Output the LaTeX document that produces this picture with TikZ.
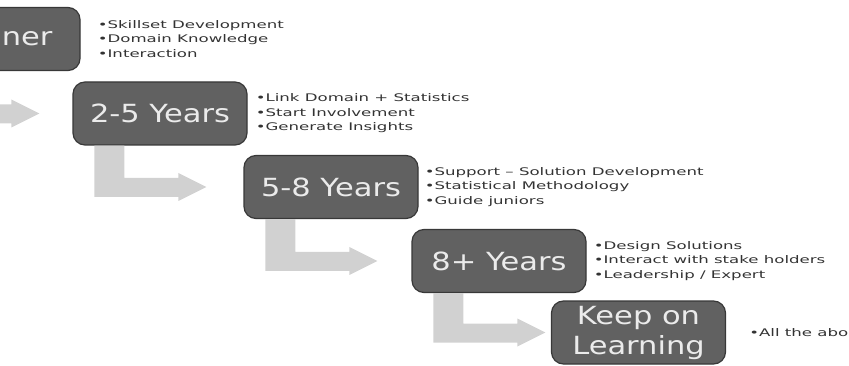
\documentclass[tikz,border=0pt]{standalone}
\usepackage{fontspec}
\setmainfont{DejaVu Sans}
\newfontfamily\stagefont[FakeStretch=1.22]{DejaVu Sans}
\newfontfamily\pointfont[FakeStretch=1.58]{DejaVu Sans}
\usetikzlibrary{positioning, calc}

\tikzset{
  stage/.style={rounded corners=12pt, fill=black!62, draw=black!78, line width=1.2pt,
    text=white!92!black, minimum width=174pt, minimum height=63pt, align=center,
    font=\stagefont\fontsize{25}{30}\selectfont},
  stagetext/.style={text=white!92!black, inner sep=0pt,
    font=\stagefont\fontsize{25}{30}\selectfont},
  points/.style={align=left, inner sep=0pt, text=black!80,
    font=\pointfont\fontsize{10.5}{14.5}\selectfont},
  flow/.style={fill=black!18},
}

% bent arrow: down from the bottom of #1, then right towards #2
\newcommand{\bentarrow}[2]{%
  \coordinate (p) at ($(#1.south west)+(22,0)$);
  \coordinate (q) at (p |- #2.west);
  \fill[flow] (p) -- ++(30,0) -- ($(q)+(30,-9)$) -- ($(q)+(84,-9)$)
    -- ($(q)+(84,-14)$) -- ($(q)+(112,0)$) -- ($(q)+(84,14)$)
    -- ($(q)+(84,10)$) -- ($(q)+(0,10)$) -- cycle;
}

\begin{document}
\begin{tikzpicture}[x=1pt, y=-1pt]

\useasboundingbox (0,0) rectangle (849,366);
\clip (0,0) rectangle (849,366);

% Stages
\node[stage] (y0) at (-7,39) {};
\node[stagetext, left=28pt of y0.east] (t0name) {ner};
\node[stage] (y25) at (160,113.5) {2-5 Years};
\node[stage] (y58) at (331,187) {5-8 Years};
\node[stage] (y8)  at (499,261) {8+ Years};
\node[stage] (keep) at (638.5,332.5) {Keep on\\Learning};

% What each stage is about
\node[points, right=17pt of y0]  (t0)  {•Skillset Development\\•Domain Knowledge\\•Interaction};
\node[points, right=8pt of y25]  (t25) {•Link Domain + Statistics\\•Start Involvement\\•Generate Insights};
\node[points, right=6pt of y58]  (t58) {•Support – Solution Development\\•Statistical Methodology\\•Guide juniors};
\node[points, right=7pt of y8]   (t8)  {•Design Solutions\\•Interact with stake holders\\•Leadership / Expert};
\node[points, right=23pt of keep] (tk) {•All the abo};

% Arrows between stages
\bentarrow{y0}{y25}
\bentarrow{y25}{y58}
\bentarrow{y58}{y8}
\bentarrow{y8}{keep}

\end{tikzpicture}
\end{document}
